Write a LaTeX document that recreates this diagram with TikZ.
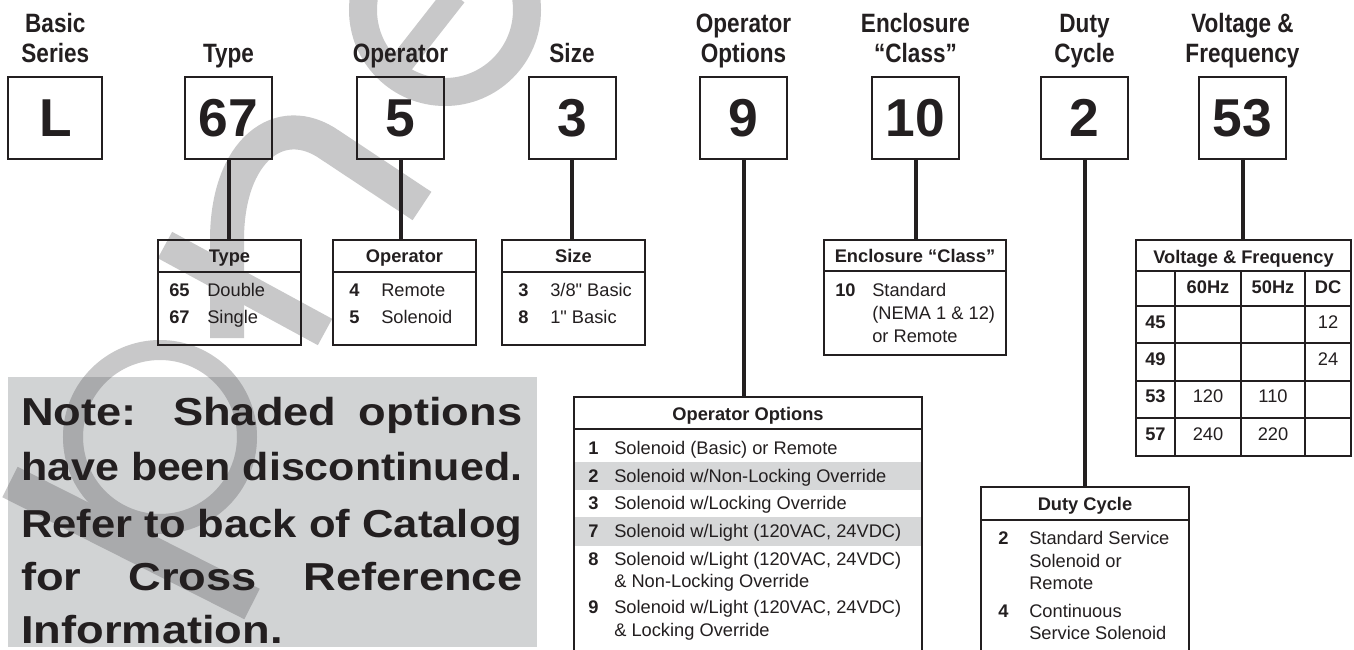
\documentclass[tikz,border=0pt]{standalone}
\usepackage{fontspec}
\usepackage{graphicx}
\setmainfont{Liberation Sans}
\newfontfamily\condfont[FakeStretch=0.85]{Liberation Sans}
\newfontfamily\notefont[FakeStretch=1.16]{Liberation Sans}
\newfontfamily\rawfont[Ligatures=TeXOff]{Liberation Sans}
\definecolor{ink}{HTML}{231F20}
\definecolor{notegray}{HTML}{D1D3D4}
\definecolor{rowshade}{HTML}{D6D7D8}
\definecolor{wmlight}{HTML}{C8C8C9}
\definecolor{wmdark}{HTML}{A9AAAC}
\newcommand\wmstrokes[1]{%
  \draw[#1, line width=25.5pt] (10,482) -- (252,604);
  \draw[#1, line width=15pt] (160,437) circle [radius=87];
  \draw[#1, line width=22.5pt] (165,245) -- (325,332);
  \draw[#1, line width=25.5pt] (227,338) -- (227,240) .. controls (227,150) and (280,110) .. (330,145) -- (422,206);
  \draw[#1, line width=21pt] (445,10) circle [radius=82];
  \draw[#1, line width=18pt] (390,78) -- (455,-5);
}
\newcommand\inch{{\rawfont"}}
\tikzset{
  numbox/.style={draw=ink, line width=1.5pt, minimum width=65.25pt, minimum height=61.5pt, inner sep=0pt, text=ink, font=\bfseries\fontsize{40}{40}\selectfont},
  toplbl/.style={anchor=base, inner sep=0pt, text=ink, font=\condfont\bfseries\fontsize{19.9}{22}\selectfont},
  tabframe/.style={draw=ink, line width=1.5pt, inner sep=0pt},
  rulex/.style={draw=ink, line width=1.4pt},
  conn/.style={draw=ink, line width=3pt},
  cell/.style={anchor=base west, inner sep=0pt, text=ink, font=\fontsize{13.7}{16}\selectfont},
  cellb/.style={anchor=base west, inner sep=0pt, text=ink, font=\bfseries\fontsize{13.7}{16}\selectfont},
  cellc/.style={anchor=base, inner sep=0pt, text=ink, font=\fontsize{13.7}{16}\selectfont},
  head/.style={anchor=base, inner sep=0pt, text=ink, font=\bfseries\fontsize{13.7}{16}\selectfont},
  notetxt/.style={anchor=base west, inner sep=0pt, text=ink, font=\notefont\bfseries\fontsize{29.25}{30}\selectfont},
}
\begin{document}
\begin{tikzpicture}[x=0.75pt,y=-0.75pt]
\useasboundingbox (0,0) rectangle (1354,650);
\clip (0,0) rectangle (1354,650);
\fill[white] (0,0) rectangle (1354,650);
% note background
\fill[notegray] (8,377) rectangle (537,647);
% watermark
\wmstrokes{wmlight}
\begin{scope}
  \clip (8,377) rectangle (537,647);
  \wmstrokes{wmdark}
\end{scope}
% shaded rows
\fill[rowshade] (574,462) rectangle (922,490);
\fill[rowshade] (574,517) rectangle (922,546);

% top labels
\node[toplbl] (lbs1) at (55.3,32) {Basic};
\node[toplbl] (lbs2) at (55.3,62) {Series};
\node[toplbl] (lty) at (228.5,62) {Type};
\node[toplbl] (lop) at (400.5,62) {Operator};
\node[toplbl] (lsz) at (572,62) {Size};
\node[toplbl] (loo1) at (743.5,32) {Operator};
\node[toplbl] (loo2) at (743.5,62) {Options};
\node[toplbl] (len1) at (915.5,32) {Enclosure};
\node[toplbl] (len2) at (915.5,62) {“Class”};
\node[toplbl] (ldc1) at (1084.5,32) {Duty};
\node[toplbl] (ldc2) at (1084.5,62) {Cycle};
\node[toplbl] (lvf1) at (1242.5,32) {Voltage \&};
\node[toplbl] (lvf2) at (1242.5,62) {Frequency};

% code boxes
\node[numbox, minimum width=70.5pt] (bL) at (55.3,118) {L};
\node[numbox] (b67) at (228.5,118) {67};
\node[numbox] (b5) at (400.5,118) {5};
\node[numbox] (b3) at (572,118) {3};
\node[numbox] (b9) at (743.5,118) {9};
\node[numbox] (b10) at (915.5,118) {10};
\node[numbox] (b2) at (1084.5,118) {2};
\node[numbox] (b53) at (1242.5,118) {53};

% table frames
\node[tabframe, minimum width=107.25pt, minimum height=78.75pt] (typetab) at (229.5,292.5) {};
\node[tabframe, minimum width=107.25pt, minimum height=78.75pt] (optab) at (404.5,292.5) {};
\node[tabframe, minimum width=107.25pt, minimum height=78.75pt] (sizetab) at (573.5,292.5) {};
\node[tabframe, minimum width=136.5pt, minimum height=86.25pt] (enctab) at (915,297.5) {};
\node[tabframe, minimum width=161.25pt, minimum height=162pt] (vftab) at (1243.5,348) {};
\node[tabframe, minimum width=261pt, minimum height=204.75pt] (opttab) at (748,533.5) {};
\node[tabframe, minimum width=156pt, minimum height=137.25pt] (dutytab) at (1085,578.5) {};

% connectors
\draw[conn] (b67.south) -- (b67.south |- typetab.north);
\draw[conn] (b5.south) -- (b5.south |- optab.north);
\draw[conn] (b3.south) -- (b3.south |- sizetab.north);
\draw[conn] (b9.south) -- (b9.south |- opttab.north);
\draw[conn] (b10.south) -- (b10.south |- enctab.north);
\draw[conn] (b2.south) -- (b2.south |- dutytab.north);
\draw[conn] (b53.south) -- (b53.south |- vftab.north);

% header rules
\draw[rulex] (158,272) -- (301,272);
\draw[rulex] (333,272) -- (476,272);
\draw[rulex] (502,272) -- (645,272);
\draw[rulex] (824,271) -- (1006,271);
\draw[rulex] (574,429) -- (922,429);
\draw[rulex] (981,520) -- (1189,520);
% voltage grid
\draw[rulex] (1136,271) -- (1351,271);
\draw[rulex] (1136,306) -- (1351,306);
\draw[rulex] (1136,343) -- (1351,343);
\draw[rulex] (1136,381) -- (1351,381);
\draw[rulex] (1136,418) -- (1351,418);
\draw[rulex] (1175,271) -- (1175,456);
\draw[rulex] (1241,271) -- (1241,456);
\draw[rulex] (1305,271) -- (1305,456);

% Type table
\node[head] (thT) at (229.5,262) {Type};
\node[cellb] (t65) at (169,296) {65};
\node[cell] (t65t) at (207,296) {Double};
\node[cellb] (t67) at (169,323) {67};
\node[cell] (t67t) at (207,323) {Single};
% Operator table
\node[head] (thO) at (404.5,262) {Operator};
\node[cellb] (o4) at (349,296) {4};
\node[cell] (o4t) at (381,296) {Remote};
\node[cellb] (o5) at (349,323) {5};
\node[cell] (o5t) at (381,323) {Solenoid};
% Size table
\node[head] (thS) at (573.5,262) {Size};
\node[cellb] (s3) at (518,296) {3};
\node[cell] (s3t) at (550,296) {3/8\inch{} Basic};
\node[cellb] (s8) at (518,323) {8};
\node[cell] (s8t) at (550,323) {1\inch{} Basic};
% Enclosure table
\node[head] (thE) at (915,262) {Enclosure “Class”};
\node[cellb] (e10) at (835,296) {10};
\node[cell] (e10a) at (872,296) {Standard};
\node[cell] (e10b) at (872,319) {(NEMA 1 \& 12)};
\node[cell] (e10c) at (872,342) {or Remote};
% Voltage table
\node[head] (thV) at (1243.5,263) {Voltage \& Frequency};
\node[head] (v60) at (1208,293) {60Hz};
\node[head] (v50) at (1273,293) {50Hz};
\node[head] (vdc) at (1328,293) {DC};
\node[cellb] (v45) at (1145,328) {45};
\node[cellc] (v45d) at (1328,328) {12};
\node[cellb] (v49) at (1145,365) {49};
\node[cellc] (v49d) at (1328,365) {24};
\node[cellb] (v53) at (1145,402) {53};
\node[cellc] (v53a) at (1208,402) {120};
\node[cellc] (v53b) at (1273,402) {110};
\node[cellb] (v57) at (1145,440) {57};
\node[cellc] (v57a) at (1208,440) {240};
\node[cellc] (v57b) at (1273,440) {220};
% Operator options table
\node[head] (thOO) at (748,420) {Operator Options};
\node[cellb] (p1) at (588,454) {1};
\node[cell] (p1t) at (614,454) {Solenoid (Basic) or Remote};
\node[cellb] (p2) at (588,482) {2};
\node[cell] (p2t) at (614,482) {Solenoid w/Non-Locking Override};
\node[cellb] (p3) at (588,509) {3};
\node[cell] (p3t) at (614,509) {Solenoid w/Locking Override};
\node[cellb] (p7) at (588,537) {7};
\node[cell] (p7t) at (614,537) {Solenoid w/Light (120VAC, 24VDC)};
\node[cellb] (p8) at (588,565) {8};
\node[cell] (p8t) at (614,565) {Solenoid w/Light (120VAC, 24VDC)};
\node[cell] (p8u) at (614,587) {\& Non-Locking Override};
\node[cellb] (p9) at (588,613) {9};
\node[cell] (p9t) at (614,613) {Solenoid w/Light (120VAC, 24VDC)};
\node[cell] (p9u) at (614,636) {\& Locking Override};
% Duty cycle table
\node[head] (thD) at (1085,510) {Duty Cycle};
\node[cellb] (d2) at (998,544) {2};
\node[cell] (d2a) at (1029,544) {Standard Service};
\node[cell] (d2b) at (1029,567) {Solenoid or};
\node[cell] (d2c) at (1029,589) {Remote};
\node[cellb] (d4) at (998,617) {4};
\node[cell] (d4a) at (1029,617) {Continuous};
\node[cell] (d4b) at (1029,639) {Service Solenoid};

% note text
\node[notetxt] (n1) at (21,425) {\makebox[375.75pt][s]{Note: Shaded options}};
\node[notetxt] (n2) at (21,480) {\resizebox{375.75pt}{\height}{have be\kern-0.5pt en discontinued.}};
\node[notetxt] (n3) at (21,537) {\resizebox{375.75pt}{\height}{Refer to back of Catalog}};
\node[notetxt] (n4) at (21,590) {\makebox[375.75pt][s]{for Cross Reference}};
\node[notetxt] (n5) at (21,643) {Information.};
\end{tikzpicture}
\end{document}
